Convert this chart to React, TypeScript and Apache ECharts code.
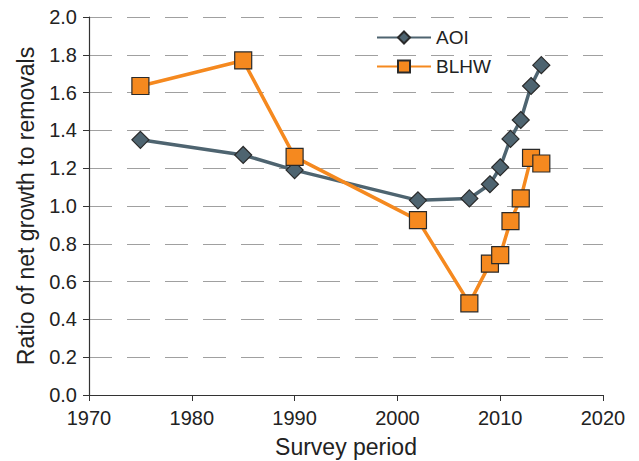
import React, { useEffect, useRef } from "react";
import * as echarts from "echarts";

const aoiYears = [1975, 1985, 1990, 2002, 2007, 2009, 2010, 2011, 2012, 2013, 2014];
const aoiValues = [1.35, 1.27, 1.19, 1.03, 1.04, 1.115, 1.205, 1.355, 1.455, 1.635, 1.745];
const blhwYears = [1975, 1985, 1990, 2002, 2007, 2009, 2010, 2011, 2012, 2013, 2014];
const blhwValues = [1.635, 1.77, 1.26, 0.925, 0.485, 0.695, 0.74, 0.92, 1.04, 1.255, 1.225];

const FONT = "Liberation Sans";

export default function App() {
  const ref = useRef<HTMLDivElement>(null);
  useEffect(() => {
    if (!ref.current) return;
    const chart = echarts.init(ref.current, undefined, { renderer: "svg" });
    chart.setOption({
      animation: false,
      backgroundColor: "#ffffff",
      textStyle: { fontFamily: FONT },
      grid: {
        left: 89,
        right: 36,
        top: 17,
        bottom: 66,
        containLabel: false,
        outerBoundsMode: "none",
      },
      legend: {
        data: ["AOI", "BLHW"],
        orient: "vertical",
        left: 376,
        top: 28,
        padding: 0,
        itemWidth: 54,
        itemHeight: 15,
        itemGap: 10,
        textStyle: { fontFamily: FONT, fontSize: 19, color: "#222", lineHeight: 15 },
      },
      xAxis: {
        type: "value",
        min: 1970,
        max: 2020,
        interval: 10,
        name: "Survey period",
        nameLocation: "middle",
        nameGap: 40,
        nameTextStyle: { fontFamily: FONT, fontSize: 23, color: "#222" },
        axisLine: { lineStyle: { color: "#333", width: 1.2 } },
        axisTick: { show: true, length: 6, lineStyle: { color: "#333" } },
        axisLabel: {
          fontFamily: FONT,
          fontSize: 20,
          color: "#222",
          margin: 13,
          formatter: (v: number) => String(v),
        },
        splitLine: { show: false },
      },
      yAxis: {
        type: "value",
        min: 0,
        max: 2,
        interval: 0.2,
        name: "Ratio of net growth to removals",
        nameLocation: "middle",
        nameGap: 52,
        nameTextStyle: { fontFamily: FONT, fontSize: 23, color: "#222" },
        axisLine: { show: true, lineStyle: { color: "#333", width: 1.2 } },
        axisTick: { show: true, length: 6, lineStyle: { color: "#333" } },
        axisLabel: {
          fontFamily: FONT,
          fontSize: 20,
          color: "#222",
          margin: 12,
          formatter: (v: number) => v.toFixed(1),
        },
        splitLine: {
          show: true,
          lineStyle: { color: "#a0a0a0", width: 1.2, type: [23, 15] },
        },
      },
      series: [
        {
          name: "AOI",
          type: "line",
          data: aoiYears.map((y, i) => [y, aoiValues[i]]),
          symbol: "diamond",
          symbolSize: 17,
          lineStyle: { color: "#4e6470", width: 3.5 },
          itemStyle: { color: "#4e6470", borderColor: "#2a2a2a", borderWidth: 1.2 },
          z: 2,
        },
        {
          name: "BLHW",
          type: "line",
          data: blhwYears.map((y, i) => [y, blhwValues[i]]),
          symbol: "rect",
          symbolSize: 17,
          lineStyle: { color: "#f5891f", width: 3.5 },
          itemStyle: { color: "#f5891f", borderColor: "#2a2a2a", borderWidth: 1.2 },
          z: 3,
        },
      ],
    });
    return () => chart.dispose();
  }, []);
  return (
    <div
      ref={ref}
      style={{ position: "fixed", left: 0, top: 0, width: 639, height: 461, overflow: "hidden" }}
    />
  );
}
